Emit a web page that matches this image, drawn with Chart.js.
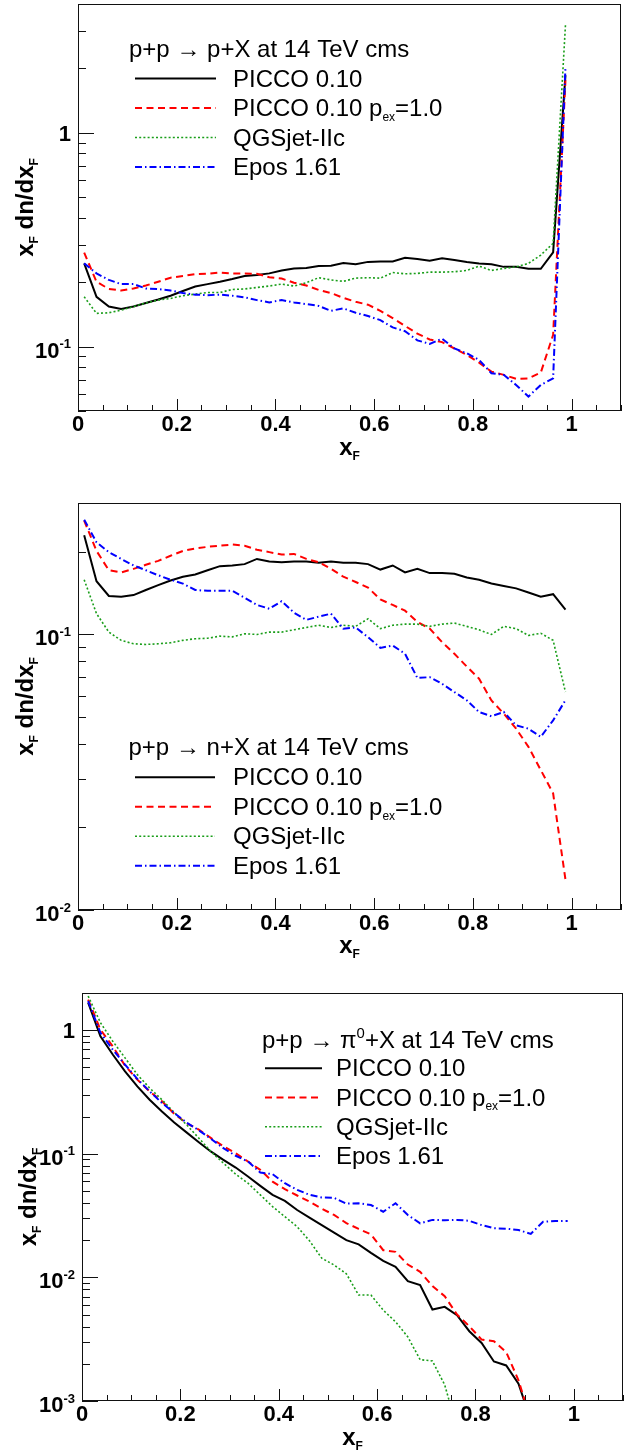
<!DOCTYPE html>
<html lang="en">
<head>
<meta charset="UTF-8">
<title>x_F spectra, p+p at 14 TeV</title>
<script src="https://cdn.jsdelivr.net/npm/chart.js"></script>
<style>
  body { margin: 0; background: #fff; }
  .panel { position: absolute; left: 0; width: 629px; }
  canvas { display: block; }
</style>
</head>
<body>
<div class="panel" style="top:0px"><canvas id="protonChart" width="629" height="480"></canvas></div>
<div class="panel" style="top:480px"><canvas id="neutronChart" width="629" height="485"></canvas></div>
<div class="panel" style="top:965px"><canvas id="pionChart" width="629" height="486"></canvas></div>

<script>
// bin centres in x_F (shared by all three panels)
const xF = [0.0125, 0.0375, 0.0625, 0.0875, 0.1125, 0.1375, 0.1625, 0.1875, 0.2125, 0.2375,
            0.2625, 0.2875, 0.3125, 0.3375, 0.3625, 0.3875, 0.4125, 0.4375, 0.4625, 0.4875,
            0.5125, 0.5375, 0.5625, 0.5875, 0.6125, 0.6375, 0.6625, 0.6875, 0.7125, 0.7375,
            0.7625, 0.7875, 0.8125, 0.8375, 0.8625, 0.8875, 0.9125, 0.9375, 0.9625, 0.9875];
const xTicks = [0, 0.2, 0.4, 0.6, 0.8, 1];

// p+p -> p+X
const protonPicco = [0.245, 0.171, 0.154, 0.150, 0.154, 0.160, 0.166, 0.173, 0.182, 0.191,
                     0.196, 0.201, 0.207, 0.214, 0.216, 0.220, 0.227, 0.232, 0.233, 0.238,
                     0.239, 0.246, 0.243, 0.249, 0.250, 0.250, 0.260, 0.257, 0.252, 0.259,
                     0.254, 0.249, 0.245, 0.243, 0.236, 0.236, 0.231, 0.231, 0.276, 1.86];
const protonPex   = [0.275, 0.201, 0.186, 0.183, 0.187, 0.193, 0.201, 0.210, 0.214, 0.218,
                     0.219, 0.222, 0.220, 0.220, 0.219, 0.211, 0.208, 0.199, 0.193, 0.184,
                     0.178, 0.169, 0.162, 0.157, 0.147, 0.136, 0.125, 0.115, 0.108, 0.105,
                     0.098, 0.0914, 0.0842, 0.0764, 0.0738, 0.0707, 0.071, 0.0756, 0.1135, 1.76];
const protonQgs   = [0.171, 0.143, 0.144, 0.148, 0.154, 0.160, 0.165, 0.168, 0.173, 0.176,
                     0.179, 0.179, 0.185, 0.186, 0.189, 0.192, 0.196, 0.192, 0.199, 0.210,
                     0.205, 0.202, 0.209, 0.210, 0.209, 0.222, 0.219, 0.220, 0.223, 0.223,
                     0.224, 0.227, 0.238, 0.227, 0.232, 0.236, 0.245, 0.268, 0.304, 3.19];
const protonEpos  = [0.245, 0.220, 0.205, 0.196, 0.196, 0.187, 0.186, 0.183, 0.178, 0.175,
                     0.174, 0.175, 0.173, 0.170, 0.165, 0.161, 0.165, 0.161, 0.158, 0.155,
                     0.147, 0.151, 0.144, 0.139, 0.133, 0.123, 0.118, 0.107, 0.103, 0.109,
                     0.098, 0.0931, 0.0867, 0.0751, 0.0738, 0.0662, 0.0584, 0.0662, 0.0711, 2.03];
const protonYTicks = [0.1, 1];

// p+p -> n+X
const neutronPicco = [0.229, 0.156, 0.138, 0.137, 0.139, 0.145, 0.151, 0.157, 0.162, 0.165,
                      0.171, 0.177, 0.178, 0.180, 0.188, 0.184, 0.183, 0.184, 0.184, 0.182,
                      0.184, 0.182, 0.182, 0.180, 0.172, 0.178, 0.168, 0.173, 0.167, 0.167,
                      0.166, 0.161, 0.158, 0.153, 0.150, 0.147, 0.142, 0.137, 0.140, 0.123];
const neutronPex   = [0.259, 0.201, 0.171, 0.168, 0.173, 0.179, 0.185, 0.193, 0.201, 0.205,
                      0.208, 0.210, 0.212, 0.210, 0.203, 0.199, 0.195, 0.196, 0.188, 0.183,
                      0.173, 0.162, 0.155, 0.148, 0.134, 0.128, 0.122, 0.111, 0.105, 0.0938,
                      0.0851, 0.0765, 0.0691, 0.0576, 0.0516, 0.0455, 0.0391, 0.0322, 0.0265, 0.0129];
const neutronQgs   = [0.158, 0.119, 0.102, 0.0952, 0.0925, 0.0920, 0.0925, 0.0933, 0.0952, 0.0965,
                      0.0969, 0.0986, 0.098, 0.1006, 0.100, 0.102, 0.102, 0.104, 0.106, 0.108,
                      0.106, 0.108, 0.107, 0.114, 0.105, 0.108, 0.109, 0.109, 0.107, 0.109,
                      0.110, 0.107, 0.104, 0.100, 0.107, 0.105, 0.0992, 0.101, 0.0952, 0.0618];
const neutronEpos  = [0.261, 0.216, 0.199, 0.188, 0.178, 0.171, 0.164, 0.158, 0.153, 0.145,
                      0.144, 0.144, 0.144, 0.136, 0.128, 0.124, 0.132, 0.120, 0.113, 0.116,
                      0.119, 0.105, 0.106, 0.0978, 0.0894, 0.0912, 0.0851, 0.0695, 0.0700, 0.0662,
                      0.0618, 0.0577, 0.0523, 0.0505, 0.0523, 0.0468, 0.0455, 0.0425, 0.0488, 0.0577];
const neutronYTicks = [0.01, 0.1];

// p+p -> pi0+X
const pionPicco = [1.67, 0.894, 0.636, 0.465, 0.351, 0.274, 0.220, 0.179, 0.149, 0.124,
                   0.104, 0.0894, 0.0774, 0.0655, 0.055, 0.0465, 0.0416, 0.0351, 0.0305, 0.0265,
                   0.023, 0.020, 0.0185, 0.0158, 0.0136, 0.0122, 0.00933, 0.00866, 0.0055, 0.00578,
                   0.00494, 0.00367, 0.00295, 0.00209, 0.00194, 0.00138, 0.0007, null, null, null];
const pionPex   = [1.77, 1.01, 0.741, 0.517, 0.398, 0.320, 0.266, 0.211, 0.177, 0.157,
                   0.134, 0.115, 0.101, 0.0866, 0.0742, 0.0596, 0.0517, 0.046, 0.041, 0.036,
                   0.032, 0.0275, 0.0247, 0.0223, 0.0166, 0.0161, 0.0127, 0.0111, 0.0085, 0.00705,
                   0.00501, 0.00403, 0.00314, 0.00304, 0.00249, 0.00147, 0.0007, null, null, null];
const pionQgs   = [1.89, 1.15, 0.815, 0.597, 0.437, 0.341, 0.274, 0.216, 0.172, 0.134,
                   0.104, 0.084, 0.0684, 0.0578, 0.0465, 0.0374, 0.031, 0.0257, 0.0198, 0.0143,
                   0.0126, 0.0107, 0.0072, 0.0072, 0.00543, 0.00437, 0.0033, 0.00216, 0.00211, 0.00135,
                   0.0006, null, null, null, null, null, null, null, null, null];
const pionEpos  = [1.72, 0.953, 0.697, 0.527, 0.404, 0.320, 0.258, 0.214, 0.179, 0.155,
                   0.132, 0.111, 0.0964, 0.0866, 0.0705, 0.0684, 0.0578, 0.0511, 0.0466, 0.0443,
                   0.044, 0.0395, 0.0398, 0.0385, 0.034, 0.0398, 0.032, 0.0274, 0.0292, 0.029,
                   0.0292, 0.0287, 0.0265, 0.025, 0.0248, 0.0242, 0.0225, 0.0282, 0.0286, 0.0286];
const pionYTicks = [0.001, 0.01, 0.1, 1];

// legend labels, as [text, 'sub'|'sup'|''] parts
const seriesLabels = [
    [['PICCO 0.10', '']],
    [['PICCO 0.10 p', ''], ['ex', 'sub'], ['=1.0', '']],
    [['QGSjet-IIc', '']],
    [['Epos 1.61', '']]
];
const seriesStyles = [
    { color: '#000000', width: 2, dash: [] },
    { color: '#ff0000', width: 2, dash: [7, 4.5] },
    { color: '#1a9e1a', width: 1.6, dash: [2, 2.2] },
    { color: '#0000ff', width: 2, dash: [7, 3, 1.5, 3] }
];

const FONT = '"Liberation Sans", Arial, Helvetica, sans-serif';
const LEGEND_SIZE = 24;

function drawRich(ctx, parts, x, y, size, bold, measureOnly) {
    let cx = x;
    parts.forEach(([t, m]) => {
        const s = m === 'sub' ? size * 0.5 : m === 'sup' ? size * 0.62 : size;
        ctx.font = (bold ? 'bold ' : '') + s + 'px ' + FONT;
        const dy = m === 'sub' ? size * 0.2 : m === 'sup' ? -size * 0.4 : 0;
        if (!measureOnly) ctx.fillText(t, cx, y + dy);
        cx += ctx.measureText(t).width;
    });
    return cx - x;
}

function makePanel(canvasId, spec) {
    const H = document.getElementById(canvasId).height;
    const L = spec.layout;

    const rootStyle = {
        id: 'rootStyle',
        afterDatasetsDraw(chart) {
            const { ctx, chartArea: a, scales: { x, y } } = chart;
            ctx.save();
            ctx.strokeStyle = '#111';
            ctx.lineWidth = 1;
            ctx.setLineDash([]);
            ctx.strokeRect(a.left + 0.5, a.top + 0.5, a.right - a.left - 1, a.bottom - a.top - 1);
            ctx.beginPath();
            // x ticks: minor every 0.05, major on labelled ticks
            for (let i = 0; i * 0.05 <= 1.1 + 1e-9; i++) {
                const v = i * 0.05;
                const px = Math.round(x.getPixelForValue(v)) + 0.5;
                const major = xTicks.some(t => Math.abs(t - v) < 1e-6);
                ctx.moveTo(px, a.bottom);
                ctx.lineTo(px, a.bottom - (major ? 12 : 6));
            }
            // y ticks on the log axis
            const lo = Math.floor(Math.log10(y.min)), hi = Math.ceil(Math.log10(y.max));
            for (let e = lo; e <= hi; e++) {
                for (let m = 1; m <= 9; m++) {
                    const v = m * Math.pow(10, e);
                    if (v < y.min * 0.999 || v > y.max * 1.001) continue;
                    const py = Math.round(y.getPixelForValue(v)) + 0.5;
                    ctx.moveTo(a.left, py);
                    ctx.lineTo(a.left + (m === 1 ? 16 : 8), py);
                }
            }
            ctx.stroke();
            ctx.restore();
        },
        afterDraw(chart) {
            const { ctx, chartArea: a, scales: { y } } = chart;
            ctx.save();
            ctx.fillStyle = '#000';
            ctx.textAlign = 'left';
            ctx.textBaseline = 'alphabetic';

            // y tick labels (1, 10^-1, ...)
            const right = a.left - 7;
            spec.yTicks.forEach(v => {
                const py = y.getPixelForValue(v);
                const e = Math.round(Math.log10(v));
                if (e === 0) {
                    ctx.font = 'bold 22px ' + FONT;
                    ctx.fillText('1', right - ctx.measureText('1').width, py + 8);
                } else {
                    const sup = String(e);
                    ctx.font = 'bold 13px ' + FONT;
                    const ws = ctx.measureText(sup).width;
                    ctx.fillText(sup, right - ws, py + 1.5);
                    ctx.font = 'bold 22px ' + FONT;
                    const wm = ctx.measureText('10').width;
                    ctx.fillText('10', right - ws - wm, py + 11);
                }
            });

            // axis titles
            const yTitle = [['x', ''], ['F', 'sub'], [' dn/dx', ''], ['F', 'sub']];
            const xTitle = [['x', ''], ['F', 'sub']];
            const wy = drawRich(ctx, yTitle, 0, 0, 24, true, true);
            ctx.save();
            ctx.translate(L.yTitleX, (a.top + a.bottom) / 2);
            ctx.rotate(-Math.PI / 2);
            drawRich(ctx, yTitle, -wy / 2, 0, 24, true);
            ctx.restore();
            const wx = drawRich(ctx, xTitle, 0, 0, 24, true, true);
            drawRich(ctx, xTitle, (a.left + a.right) / 2 - wx / 2, L.xTitleY, 24, true);

            // legend block
            drawRich(ctx, spec.header, L.headerX, L.headerY + 8, LEGEND_SIZE, false);
            seriesLabels.forEach((lab, i) => {
                const st = seriesStyles[i];
                const yc = L.rowY + i * L.rowStep;
                ctx.save();
                ctx.strokeStyle = st.color;
                ctx.lineWidth = st.width;
                ctx.setLineDash(st.dash);
                ctx.beginPath();
                ctx.moveTo(L.lineX0, yc);
                ctx.lineTo(L.lineX1, yc);
                ctx.stroke();
                ctx.restore();
                drawRich(ctx, lab, L.textX, yc + 8, LEGEND_SIZE, false);
            });
            ctx.restore();
        }
    };

    const datasets = spec.series.map((vals, i) => ({
        label: seriesLabels[i].map(p => p[0]).join(''),
        data: xF.map((x, k) => ({ x: x, y: vals[k] })),
        borderColor: seriesStyles[i].color,
        borderWidth: seriesStyles[i].width,
        borderDash: seriesStyles[i].dash,
        pointRadius: 0,
        fill: false,
        tension: 0,
        spanGaps: false,
        order: 4 - i
    }));

    new Chart(document.getElementById(canvasId).getContext('2d'), {
        type: 'line',
        data: { datasets: datasets },
        options: {
            responsive: false,
            animation: false,
            events: [],
            layout: { padding: { top: L.top, right: 629 - L.right, left: 0, bottom: 0 } },
            scales: {
                x: {
                    type: 'linear',
                    min: 0,
                    max: 1.1,
                    grid: { display: false, drawTicks: false, tickLength: 0 },
                    border: { display: false },
                    afterBuildTicks: s => { s.ticks = xTicks.map(v => ({ value: v })); },
                    afterFit: s => { s.height = H - L.bottom; },
                    ticks: {
                        autoSkip: false,
                        maxRotation: 0,
                        padding: 1,
                        color: '#000',
                        font: { family: FONT, size: 22, weight: 'bold' },
                        callback: v => String(+Number(v).toFixed(1))
                    }
                },
                y: {
                    type: 'logarithmic',
                    min: spec.yMin,
                    max: spec.yMax,
                    grid: { display: false },
                    border: { display: false },
                    afterBuildTicks: s => { s.ticks = spec.yTicks.map(v => ({ value: v })); },
                    afterFit: s => { s.width = L.left; },
                    ticks: { display: false }
                }
            },
            plugins: {
                legend: { display: false },
                tooltip: { enabled: false }
            }
        },
        plugins: [rootStyle]
    });
}

makePanel('protonChart', {
    series: [protonPicco, protonPex, protonQgs, protonEpos],
    yMin: 0.05, yMax: 4, yTicks: protonYTicks,
    header: [['p+p \u2192 p+X at 14 TeV cms', '']],
    layout: { left: 78, right: 621, top: 4, bottom: 411,
              headerX: 129, headerY: 49, rowY: 78.5, rowStep: 29.5,
              lineX0: 135, lineX1: 216, textX: 233, yTitleX: 33, xTitleY: 455 }
});

makePanel('neutronChart', {
    series: [neutronPicco, neutronPex, neutronQgs, neutronEpos],
    yMin: 0.01, yMax: 0.3, yTicks: neutronYTicks,
    header: [['p+p \u2192 n+X at 14 TeV cms', '']],
    layout: { left: 78, right: 621, top: 23, bottom: 430,
              headerX: 128.5, headerY: 267, rowY: 297.3, rowStep: 29.5,
              lineX0: 135, lineX1: 215, textX: 233, yTitleX: 33, xTitleY: 473 }
});

makePanel('pionChart', {
    series: [pionPicco, pionPex, pionQgs, pionEpos],
    yMin: 0.001, yMax: 2, yTicks: pionYTicks,
    header: [['p+p \u2192 \u03c0', ''], ['0', 'sup'], ['+X at 14 TeV cms', '']],
    layout: { left: 82, right: 623, top: 28, bottom: 436,
              headerX: 262, headerY: 75, rowY: 103.3, rowStep: 29.2,
              lineX0: 265, lineX1: 322, textX: 336, yTitleX: 36, xTitleY: 480 }
});
</script>
</body>
</html>
